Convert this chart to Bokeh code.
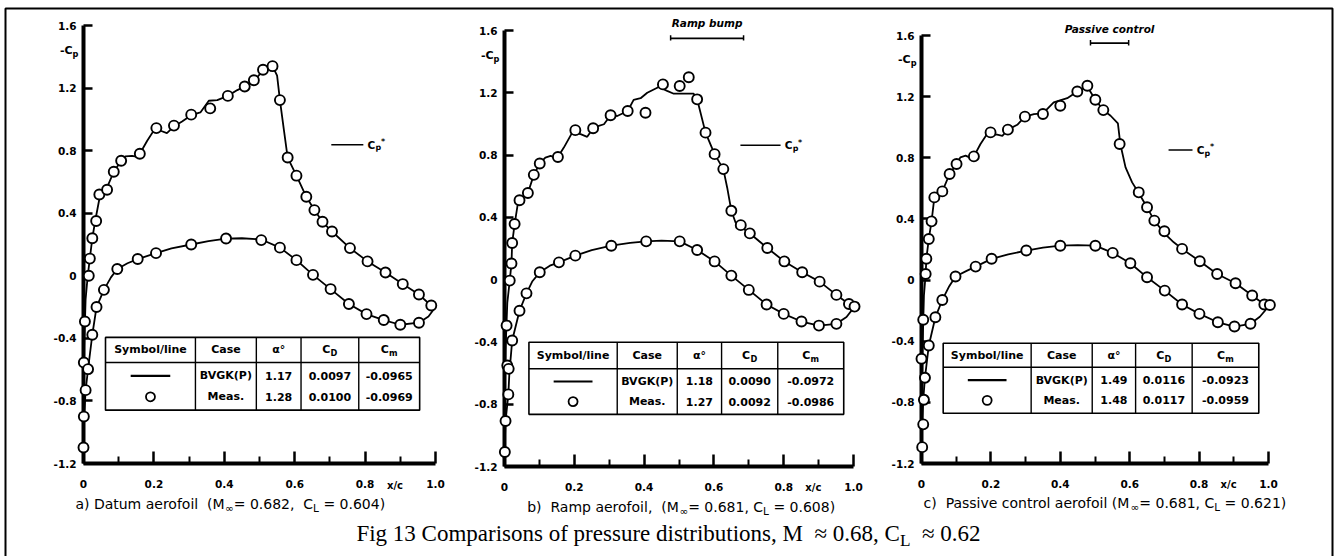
from bokeh.plotting import figure
from bokeh.models import Range1d, LinearAxis, FixedTicker
from bokeh.core.properties import value
from bokeh.embed import file_html
from bokeh.resources import INLINE

W, H = 1336, 556
NB = "\u00a0"
AXIS_COLOR = "black"

# ---------------------------------------------------------------- data
a_calc_upper_x = [0.0, 0.001, 0.002, 0.006, 0.012, 0.018, 0.025, 0.034, 0.048, 0.067, 0.086, 0.107, 0.119, 0.138,
                  0.153, 0.16, 0.181, 0.204, 0.219, 0.237, 0.257, 0.28, 0.306, 0.332, 0.356, 0.38, 0.41, 0.437,
                  0.458, 0.484, 0.51, 0.537, 0.55, 0.558, 0.569, 0.58, 0.605, 0.633, 0.656, 0.679, 0.706, 0.757,
                  0.807, 0.858, 0.907, 0.953, 0.986, 1.0]
a_calc_upper_y = [-1.1, -0.75, -0.45, -0.15, 0.0, 0.11, 0.24, 0.36, 0.526, 0.565, 0.665, 0.735, 0.763, 0.767,
                  0.76, 0.78, 0.863, 0.944, 0.927, 0.912, 0.955, 0.987, 1.027, 1.044, 1.119, 1.123, 1.15, 1.187,
                  1.21, 1.246, 1.311, 1.34, 1.279, 1.123, 0.938, 0.756, 0.64, 0.505, 0.42, 0.345, 0.283, 0.177,
                  0.092, 0.021, -0.053, -0.12, -0.187, -0.2]
a_calc_lower_x = [0.0, 0.002, 0.006, 0.013, 0.025, 0.037, 0.058, 0.078, 0.096, 0.125, 0.154, 0.206, 0.25, 0.306,
                  0.355, 0.405, 0.45, 0.505, 0.558, 0.605, 0.652, 0.702, 0.754, 0.804, 0.853, 0.90, 0.953, 0.98, 1.0]
a_calc_lower_y = [-1.1, -0.9, -0.731, -0.597, -0.377, -0.2, -0.09, -0.01, 0.043, 0.08, 0.107, 0.145, 0.175, 0.2,
                  0.222, 0.238, 0.24, 0.232, 0.18, 0.10, 0.006, -0.085, -0.18, -0.245, -0.283, -0.313, -0.3, -0.26,
                  -0.2]
a_meas_upper_x = [0.001, 0.004, 0.015, 0.018, 0.025, 0.036, 0.045, 0.067, 0.086, 0.107, 0.16, 0.207, 0.257, 0.306,
                  0.36, 0.41, 0.458, 0.484, 0.51, 0.537, 0.558, 0.58, 0.605, 0.633, 0.656, 0.679, 0.706, 0.757,
                  0.807, 0.858, 0.907, 0.953, 0.988]
a_meas_upper_y = [-0.554, -0.292, 0.0, 0.11, 0.24, 0.35, 0.52, 0.55, 0.665, 0.735, 0.78, 0.944, 0.96, 1.03, 1.07,
                  1.15, 1.21, 1.25, 1.317, 1.34, 1.123, 0.756, 0.64, 0.505, 0.42, 0.345, 0.283, 0.177, 0.092, 0.021,
                  -0.053, -0.12, -0.19]
a_meas_lower_x = [0.0, 0.001, 0.006, 0.013, 0.025, 0.037, 0.058, 0.096, 0.154, 0.206, 0.306, 0.405, 0.505, 0.558,
                  0.605, 0.652, 0.702, 0.754, 0.804, 0.853, 0.90, 0.953]
a_meas_lower_y = [-1.098, -0.9, -0.731, -0.597, -0.377, -0.2, -0.09, 0.043, 0.107, 0.145, 0.2, 0.238, 0.228, 0.18,
                  0.10, 0.006, -0.085, -0.18, -0.245, -0.283, -0.313, -0.3]

b_calc_upper_x = [0.0, 0.001, 0.003, 0.008, 0.015, 0.02, 0.022, 0.029, 0.038, 0.043, 0.06, 0.067, 0.084, 0.101,
                  0.117, 0.132, 0.146, 0.153, 0.17, 0.194, 0.218, 0.237, 0.254, 0.27, 0.285, 0.304, 0.323, 0.353,
                  0.37, 0.39, 0.409, 0.442, 0.466, 0.485, 0.542, 0.552, 0.576, 0.602, 0.627, 0.638, 0.65, 0.662,
                  0.677, 0.705, 0.753, 0.802, 0.853, 0.903, 0.951, 0.987, 1.003]
b_calc_upper_y = [-1.107, -0.75, -0.45, -0.15, -0.006, 0.104, 0.235, 0.357, 0.485, 0.51, 0.549, 0.556, 0.673,
                  0.746, 0.784, 0.795, 0.784, 0.788, 0.848, 0.944, 0.934, 0.917, 0.972, 0.987, 0.998, 1.056, 1.051,
                  1.083, 1.154, 1.165, 1.2, 1.237, 1.212, 1.194, 1.194, 1.158, 0.944, 0.806, 0.71, 0.592, 0.442,
                  0.367, 0.34, 0.293, 0.203, 0.117, 0.047, -0.013, -0.098, -0.156, -0.173]
b_calc_lower_x = [0.0, 0.003, 0.011, 0.014, 0.022, 0.043, 0.063, 0.08, 0.101, 0.13, 0.156, 0.203, 0.25, 0.306,
                  0.36, 0.406, 0.45, 0.502, 0.552, 0.602, 0.65, 0.70, 0.751, 0.80, 0.851, 0.901, 0.951, 0.98, 1.003]
b_calc_lower_y = [-1.107, -0.908, -0.737, -0.6, -0.391, -0.2, -0.088, -0.01, 0.047, 0.09, 0.111, 0.154, 0.19,
                  0.218, 0.236, 0.246, 0.25, 0.246, 0.19, 0.117, 0.026, -0.066, -0.16, -0.22, -0.269, -0.295,
                  -0.284, -0.24, -0.173]
b_meas_upper_x = [0.008, 0.006, 0.015, 0.02, 0.022, 0.029, 0.043, 0.067, 0.084, 0.101, 0.153, 0.203, 0.254, 0.304,
                  0.353, 0.404, 0.454, 0.502, 0.528, 0.552, 0.576, 0.602, 0.627, 0.65, 0.677, 0.703, 0.753, 0.802,
                  0.853, 0.903, 0.951, 0.987, 1.003]
b_meas_upper_y = [-0.551, -0.295, -0.006, 0.104, 0.235, 0.357, 0.51, 0.556, 0.673, 0.746, 0.788, 0.96, 0.972,
                  1.056, 1.083, 1.072, 1.254, 1.244, 1.30, 1.158, 0.944, 0.806, 0.71, 0.442, 0.35, 0.297, 0.203,
                  0.117, 0.047, -0.013, -0.098, -0.156, -0.173]
b_meas_lower_x = [0.001, 0.003, 0.011, 0.012, 0.022, 0.043, 0.063, 0.101, 0.156, 0.203, 0.306, 0.406, 0.502, 0.552,
                  0.602, 0.65, 0.70, 0.751, 0.80, 0.851, 0.901, 0.951]
b_meas_lower_y = [-1.107, -0.908, -0.737, -0.573, -0.391, -0.2, -0.088, 0.047, 0.111, 0.154, 0.218, 0.246, 0.246,
                  0.19, 0.117, 0.026, -0.066, -0.16, -0.22, -0.269, -0.295, -0.284]

c_calc_upper_x = [0.0, 0.001, 0.003, 0.007, 0.012, 0.014, 0.021, 0.029, 0.036, 0.04, 0.06, 0.081, 0.101, 0.112,
                  0.127, 0.141, 0.151, 0.17, 0.189, 0.218, 0.233, 0.249, 0.276, 0.298, 0.324, 0.35, 0.381, 0.42,
                  0.449, 0.478, 0.501, 0.524, 0.545, 0.566, 0.573, 0.588, 0.607, 0.626, 0.65, 0.671, 0.70, 0.727,
                  0.751, 0.802, 0.852, 0.905, 0.953, 0.988, 1.004]
c_calc_upper_y = [-1.093, -0.75, -0.45, -0.1, 0.04, 0.139, 0.269, 0.384, 0.52, 0.541, 0.58, 0.694, 0.759, 0.803,
                  0.814, 0.799, 0.809, 0.89, 0.955, 0.951, 0.944, 0.984, 1.016, 1.069, 1.086, 1.09, 1.162, 1.19,
                  1.234, 1.265, 1.18, 1.112, 1.075, 1.025, 0.89, 0.737, 0.639, 0.57, 0.476, 0.389, 0.306, 0.247,
                  0.204, 0.123, 0.04, -0.021, -0.101, -0.16, -0.163]
c_calc_lower_x = [0.0, 0.002, 0.005, 0.01, 0.021, 0.04, 0.06, 0.08, 0.098, 0.13, 0.156, 0.202, 0.25, 0.302, 0.35,
                  0.40, 0.45, 0.501, 0.551, 0.602, 0.65, 0.701, 0.751, 0.801, 0.854, 0.902, 0.948, 0.975, 1.004]
c_calc_lower_y = [-1.093, -0.944, -0.783, -0.639, -0.428, -0.243, -0.13, -0.04, 0.023, 0.06, 0.088, 0.139, 0.168,
                  0.193, 0.212, 0.225, 0.228, 0.225, 0.178, 0.11, 0.018, -0.069, -0.16, -0.221, -0.276, -0.304,
                  -0.286, -0.24, -0.163]
c_meas_upper_x = [0.0, 0.005, 0.012, 0.014, 0.021, 0.029, 0.037, 0.06, 0.081, 0.101, 0.151, 0.199, 0.249, 0.298,
                  0.35, 0.40, 0.449, 0.478, 0.501, 0.524, 0.571, 0.626, 0.65, 0.671, 0.70, 0.751, 0.802, 0.852,
                  0.905, 0.953, 0.988, 1.004]
c_meas_upper_y = [-0.515, -0.26, 0.04, 0.139, 0.269, 0.384, 0.541, 0.58, 0.694, 0.759, 0.809, 0.966, 0.984, 1.069,
                  1.086, 1.14, 1.234, 1.271, 1.18, 1.112, 0.89, 0.574, 0.476, 0.389, 0.319, 0.204, 0.123, 0.04,
                  -0.021, -0.101, -0.16, -0.163]
c_meas_lower_x = [0.002, 0.005, 0.007, 0.01, 0.021, 0.04, 0.06, 0.098, 0.156, 0.202, 0.302, 0.40, 0.501, 0.551,
                  0.602, 0.65, 0.701, 0.751, 0.801, 0.854, 0.902, 0.948]
c_meas_lower_y = [-1.093, -0.944, -0.783, -0.639, -0.428, -0.243, -0.13, 0.023, 0.088, 0.139, 0.193, 0.225, 0.225,
                  0.178, 0.11, 0.018, -0.069, -0.16, -0.221, -0.276, -0.304, -0.286]

case_names = ["BVGK(P)", "Meas."]
alpha_a, cd_a, cm_a = ["1.17", "1.28"], ["0.0097", "0.0100"], ["-0.0965", "-0.0969"]
alpha_b, cd_b, cm_b = ["1.18", "1.27"], ["0.0090", "0.0092"], ["-0.0972", "-0.0986"]
alpha_c, cd_c, cm_c = ["1.49", "1.48"], ["0.0116", "0.0117"], ["-0.0923", "-0.0959"]
mach_inf = ["0.682", "0.681", "0.681"]
cl_val = ["0.604", "0.608", "0.621"]
panel_titles = ["a) Datum aerofoil" + NB * 2 + "(M", "b)" + NB * 2 + "Ramp aerofoil," + NB * 2 + "(M",
                "c)" + NB * 2 + "Passive control aerofoil (M"]

y_ticks = [-1.2, -0.8, -0.4, 0, 0.4, 0.8, 1.2, 1.6]
y_tick_labels = ["-1.2", "-0.8", "-0.4", "0", "0.4", "0.8", "1.2", "1.6"]
x_ticks = [0, 0.2, 0.4, 0.6, 0.8, 1.0]
x_tick_labels = ["0", "0.2", "0.4", "0.6", "0.8", "1.0"]
x_minor_ticks = [0.1, 0.3, 0.5, 0.7, 0.9]

# ---------------------------------------------------------------- text metrics (em widths)
DJ = {' ': 0.318, NB: 0.318, '!': 0.401, '(': 0.390, ')': 0.390, '*': 0.5, ',': 0.318, '-': 0.361, '.': 0.318,
      '/': 0.337, '=': 0.838, 'A': 0.684, 'B': 0.686, 'C': 0.698, 'D': 0.770, 'E': 0.632, 'F': 0.575,
      'G': 0.775, 'K': 0.656, 'L': 0.557, 'M': 0.863, 'P': 0.603, 'R': 0.695, 'S': 0.635, 'V': 0.684,
      'a': 0.613, 'b': 0.635, 'c': 0.550, 'd': 0.635, 'e': 0.615, 'f': 0.352, 'g': 0.635, 'h': 0.634,
      'i': 0.278, 'l': 0.278, 'm': 0.974, 'n': 0.634, 'o': 0.612, 'p': 0.635, 'r': 0.411, 's': 0.521,
      't': 0.392, 'u': 0.634, 'v': 0.592, 'x': 0.592, 'y': 0.592, '\u221e': 0.833, '\u03b1': 0.659,
      '\u00b0': 0.5, '\u2248': 0.838}
for _d in "0123456789":
    DJ[_d] = 0.636
TM = {' ': 0.25, NB: 0.25, ',': 0.25, '.': 0.25, 'F': 0.556, 'C': 0.667, 'M': 0.889, 'L': 0.611, '\u2248': 0.549,
      'a': 0.444, 'b': 0.5, 'c': 0.444, 'd': 0.5, 'e': 0.444, 'f': 0.333, 'g': 0.5, 'i': 0.278, 'm': 0.778,
      'n': 0.5, 'o': 0.5, 'p': 0.5, 'r': 0.333, 's': 0.389, 't': 0.278, 'u': 0.5}
for _d in "0123456789":
    TM[_d] = 0.5

SANS = "DejaVu Sans"
SERIF = "Liberation Serif"


def text_width(pieces, size, table, factor):
    tot = 0.0
    for t, m in pieces:
        s = size if m == "n" else size * 0.75
        tot += sum(table.get(ch, 0.6) for ch in t) * s * factor
    return tot


def rich(p, x, y, pieces, size, xr="default", yr="default", align="left", font=SANS, style="normal",
         table=DJ, factor=1.0):
    total = text_width(pieces, size, table, factor)
    cum = {"left": 0.0, "center": -total / 2, "right": -total}[align]
    for t, m in pieces:
        s = size if m == "n" else size * 0.75
        dy = {"n": 0.0, "sub": size * 0.3, "sup": -size * 0.3}[m]
        p.text(x=[x], y=[y], text=[t], x_offset=cum, y_offset=dy, text_font=value(font),
               text_font_size=f"{s:.1f}px", text_font_style=style, text_align="left",
               text_baseline="middle", text_color="black", x_range_name=xr, y_range_name=yr)
        cum += sum(table.get(ch, 0.6) for ch in t) * s * factor


# ---------------------------------------------------------------- figure
p = figure(width=W, height=H, x_range=Range1d(0, W), y_range=Range1d(H, 0), x_axis_type=None,
           y_axis_type=None, toolbar_location=None, output_backend="svg", title=None, min_border=0)
p.grid.visible = False
p.outline_line_color = None
p.background_fill_color = "white"
p.border_fill_color = "white"

layout_px = {"a": (83, 435, 25, 463), "b": (504, 853, 30, 466), "c": (921, 1268, 35, 463)}


def panel_ranges(x0, x1, yt, yb):
    sx = float(x1 - x0)
    xs = -x0 / sx
    sy = (yb - yt) / 2.8
    return Range1d(start=xs, end=xs + W / sx), Range1d(start=1.6 - (H - yt) / sy, end=1.6 + yt / sy)


for k, px in layout_px.items():
    xr_, yr_ = panel_ranges(*px)
    p.extra_x_ranges["x" + k] = xr_
    p.extra_y_ranges["y" + k] = yr_

panels = [
    dict(k="a", calc=[(a_calc_upper_x, a_calc_upper_y), (a_calc_lower_x, a_calc_lower_y)],
         meas=[(a_meas_upper_x, a_meas_upper_y), (a_meas_lower_x, a_meas_lower_y)],
         alpha=alpha_a, cd=cd_a, cm=cm_a,
         table=dict(cols=[0.0625, 0.318, 0.491, 0.618, 0.782, 0.955], top=-0.394, mid=-0.554, bot=-0.859),
         cpstar=(0.704, 0.795, 0.838), bracket=None, cap_x=-0.023, cap_w=328),
    dict(k="b", calc=[(b_calc_upper_x, b_calc_upper_y), (b_calc_lower_x, b_calc_lower_y)],
         meas=[(b_meas_upper_x, b_meas_upper_y), (b_meas_lower_x, b_meas_lower_y)],
         alpha=alpha_b, cd=cd_b, cm=cm_b,
         table=dict(cols=[0.07, 0.323, 0.495, 0.622, 0.783, 0.972], top=-0.402, mid=-0.572, bot=-0.865),
         cpstar=(0.676, 0.791, 0.863), bracket=("Ramp bump", 0.476, 0.685), cap_x=0.065, cap_w=327),
    dict(k="c", calc=[(c_calc_upper_x, c_calc_upper_y), (c_calc_lower_x, c_calc_lower_y)],
         meas=[(c_meas_upper_x, c_meas_upper_y), (c_meas_lower_x, c_meas_lower_y)],
         alpha=alpha_c, cd=cd_c, cm=cm_c,
         table=dict(cols=[0.0625, 0.316, 0.492, 0.617, 0.78, 0.972], top=-0.413, mid=-0.57, bot=-0.871),
         cpstar=(0.712, 0.781, 0.851), bracket=("Passive control", 0.487, 0.597), cap_x=0.006, cap_w=366),
]

for i, pn in enumerate(panels):
    k = pn["k"]
    xr, yr = "x" + k, "y" + k
    kw = dict(x_range_name=xr, y_range_name=yr)

    for xs, ys in pn["calc"]:
        p.line(xs, ys, line_color="black", line_width=1.8, **kw)
    for xs, ys in pn["meas"]:
        p.scatter(xs, ys, marker="circle", size=10, fill_color="white", line_color="black",
                  line_width=1.9, level="overlay", **kw)

    # axes
    yax = LinearAxis(fixed_location=0, bounds=(-1.2, 1.6), ticker=FixedTicker(ticks=y_ticks), **kw)
    yax.major_label_overrides = dict(zip(y_ticks, y_tick_labels))
    xax = LinearAxis(fixed_location=-1.2, bounds=(0, 1.0),
                     ticker=FixedTicker(ticks=x_ticks, minor_ticks=x_minor_ticks), **kw)
    xax.major_label_overrides = dict(zip(x_ticks, x_tick_labels))
    for ax in (yax, xax):
        ax.axis_line_width = 4
        ax.axis_line_color = AXIS_COLOR
        ax.major_tick_line_width = 2.5
        ax.major_tick_line_color = AXIS_COLOR
        ax.major_label_text_font = SANS
        ax.major_label_text_font_size = "10.5px"
        ax.major_label_text_font_style = "bold"
        ax.major_label_text_color = "black"
    yax.major_tick_in = 9
    yax.major_tick_out = 0
    yax.minor_tick_in = 0
    yax.minor_tick_out = 0
    yax.major_label_standoff = 7
    xax.major_tick_in = 12
    xax.major_tick_out = 0
    xax.minor_tick_in = 7
    xax.minor_tick_out = 0
    xax.minor_tick_line_width = 2
    xax.minor_tick_line_color = AXIS_COLOR
    xax.major_label_standoff = 16
    p.add_layout(yax, "left")
    p.add_layout(xax, "below")

    rich(p, -0.015, 1.44, [("-C", "n"), ("p", "sub")], 11, xr, yr, align="right", style="bold", factor=1.08)
    p.text(x=[0.885], y=[-1.338], text=["x/c"], text_font=value(SANS), text_font_size="10px",
           text_font_style="bold", text_align="center", text_baseline="middle", **kw)

    x0, x1, yc = pn["cpstar"]
    p.segment(x0=[x0], y0=[yc], x1=[x1], y1=[yc], line_color="black", line_width=1.6, **kw)
    rich(p, x1 + 0.012, yc, [("C", "n"), ("p", "sub"), ("*", "sup")], 10.5, xr, yr, style="bold", factor=1.08)

    if pn["bracket"]:
        lab, bx0, bx1 = pn["bracket"]
        p.segment(x0=[bx0], y0=[1.55], x1=[bx1], y1=[1.55], line_color="black", line_width=1.8, **kw)
        p.segment(x0=[bx0, bx1], y0=[1.535, 1.535], x1=[bx0, bx1], y1=[1.57, 1.57], line_color="black",
                  line_width=1.5, **kw)
        p.text(x=[(bx0 + bx1) / 2], y=[1.645], text=[lab], text_font=value(SANS), text_font_size="10.5px",
               text_font_style="bold italic", text_align="center", text_baseline="middle", **kw)

    t = pn["table"]
    cols, top, mid, bot = t["cols"], t["top"], t["mid"], t["bot"]
    p.quad(left=[cols[0]], right=[cols[-1]], top=[top], bottom=[bot], fill_color="white",
           line_color="black", line_width=1.6, **kw)
    p.segment(x0=[cols[0]], y0=[mid], x1=[cols[-1]], y1=[mid], line_color="black", line_width=1.4, **kw)
    p.segment(x0=cols[1:-1], y0=[top] * 4, x1=cols[1:-1], y1=[bot] * 4, line_color="black",
              line_width=1.4, **kw)
    cx = [(cols[j] + cols[j + 1]) / 2 for j in range(5)]
    yh = (top + mid) / 2
    r1 = mid + (bot - mid) * 0.28
    r2 = mid + (bot - mid) * 0.72
    tsz = 11
    p.text(x=[cx[0], cx[1], cx[2]], y=[yh] * 3, text=["Symbol/line", "Case", "\u03b1\u00b0"],
           text_font=value(SANS), text_font_size=f"{tsz}px", text_font_style="bold", text_align="center",
           text_baseline="middle", **kw)
    rich(p, cx[3], yh, [("C", "n"), ("D", "sub")], tsz, xr, yr, align="center", style="bold", factor=1.08)
    rich(p, cx[4], yh, [("C", "n"), ("m", "sub")], tsz, xr, yr, align="center", style="bold", factor=1.08)
    half = (cols[1] - cols[0]) * 0.22
    p.segment(x0=[cx[0] - half], y0=[r1], x1=[cx[0] + half], y1=[r1], line_color="black", line_width=2.2, **kw)
    p.scatter([cx[0]], [r2], marker="circle", size=9, fill_color="white", line_color="black",
              line_width=1.8, **kw)
    for row_y, j in ((r1, 0), (r2, 1)):
        p.text(x=cx[1:], y=[row_y] * 4, text=[case_names[j], pn["alpha"][j], pn["cd"][j], pn["cm"][j]],
               text_font=value(SANS), text_font_size=f"{tsz}px", text_font_style="bold", text_align="center",
               text_baseline="middle", **kw)

    cap = [(panel_titles[i], "n"), ("\u221e", "sub"),
           ("=" + NB + mach_inf[i] + "," + (NB * 2 if i == 0 else NB) + "C", "n"),
           ("L", "sub"), (NB + "=" + NB + cl_val[i] + ")", "n")]
    w1 = text_width(cap, 1.0, DJ, 1.0)
    csize = min(14.0, pn["cap_w"] / w1)
    rich(p, pn["cap_x"], -1.46, cap, csize, xr, yr, align="left", style="normal")

# outer frame
p.multi_line(xs=[[5, 5, 1332, 1332]], ys=[[H, 8, 8, H]], line_color="black", line_width=2)

# figure caption
main_cap = [("Fig 13 Comparisons of pressure distributions, M" + NB * 2 + "\u2248 0.68, C", "n"), ("L", "sub"),
            (NB * 2 + "\u2248 0.62", "n")]
msize = min(23.0, 643 / text_width(main_cap, 1.0, TM, 1.0))
rich(p, 668, 533, main_cap, msize, align="center", font=SERIF, table=TM)

open("out.html", "w").write(file_html(p, INLINE))
